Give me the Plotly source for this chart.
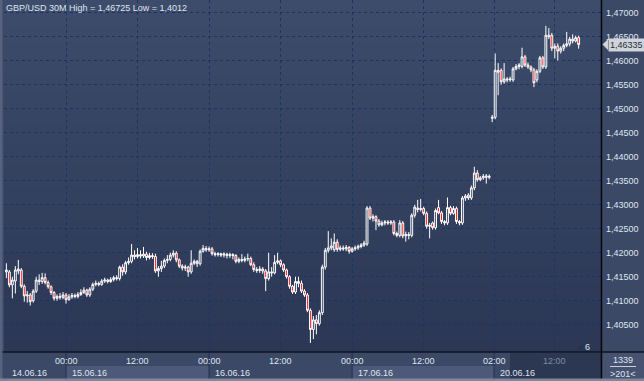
import plotly.graph_objects as go
import zlib, struct, base64

# ---------------- data (GBP/USD, 30M bars) ----------------
opens = [1.4160,1.4160,1.4133,1.4141,1.4162,1.4164,1.4130,1.4110,1.4112,1.4100,
         1.4120,1.4143,1.4140,1.4148,1.4138,1.4129,1.4117,1.4105,1.4109,1.4107,
         1.4112,1.4102,1.4108,1.4111,1.4109,1.4113,1.4117,1.4122,1.4112,1.4124,
         1.4134,1.4136,1.4134,1.4141,1.4143,1.4140,1.4144,1.4148,1.4146,1.4170,
         1.4160,1.4179,1.4182,1.4195,1.4192,1.4196,1.4193,1.4197,1.4190,1.4194,
         1.4192,1.4162,1.4167,1.4172,1.4184,1.4186,1.4195,1.4199,1.4185,1.4172,
         1.4168,1.4170,1.4160,1.4178,1.4182,1.4177,1.4203,1.4209,1.4206,1.4208,
         1.4198,1.4196,1.4198,1.4195,1.4197,1.4194,1.4196,1.4194,1.4182,1.4186,
         1.4184,1.4187,1.4188,1.4175,1.4165,1.4163,1.4166,1.4162,1.4146,1.4160,
         1.4158,1.4180,1.4183,1.4175,1.4164,1.4150,1.4130,1.4118,1.4140,1.4136,
         1.4120,1.4112,1.4080,1.4040,1.4060,1.4052,1.4075,1.4170,1.4205,1.4210,
         1.4206,1.4222,1.4207,1.4210,1.4208,1.4211,1.4203,1.4208,1.4210,1.4213,
         1.4216,1.4218,1.4293,1.4272,1.4275,1.4266,1.4258,1.4262,1.4264,1.4262,
         1.4264,1.4240,1.4236,1.4262,1.4235,1.4238,1.4236,1.4278,1.4293,1.4290,
         1.4292,1.4282,1.4255,1.4262,1.4252,1.4294,1.4283,1.4265,1.4262,1.4294,
         1.4282,1.4292,1.4265,1.4262,1.4314,1.4320,1.4314,1.4335,1.4366,1.4352,
         1.4356,1.4360,1.4357,
         1.4480,1.4482,1.4580,1.4580,1.4556,1.4562,1.4560,1.4560,1.4583,1.4588,
         1.4588,1.4608,1.4591,1.4587,1.4581,1.4560,1.4578,1.4606,1.4587,1.4653,
         1.4653,1.4626,1.4630,1.4620,1.4626,1.4632,1.4635,1.4645,1.4641,1.4648]
highs = [1.4178,1.4164,1.4150,1.4172,1.4185,1.4168,1.4134,1.4120,1.4116,1.4124,
         1.4150,1.4155,1.4158,1.4157,1.4142,1.4132,1.4120,1.4113,1.4116,1.4118,
         1.4116,1.4114,1.4116,1.4115,1.4118,1.4124,1.4128,1.4125,1.4128,1.4138,
         1.4142,1.4140,1.4145,1.4148,1.4146,1.4149,1.4152,1.4153,1.4173,1.4176,
         1.4183,1.4190,1.4218,1.4205,1.4210,1.4205,1.4212,1.4202,1.4200,1.4199,
         1.4198,1.4172,1.4183,1.4188,1.4195,1.4200,1.4205,1.4203,1.4188,1.4176,
         1.4175,1.4173,1.4205,1.4186,1.4185,1.4207,1.4216,1.4214,1.4213,1.4212,
         1.4202,1.4201,1.4200,1.4201,1.4200,1.4200,1.4199,1.4197,1.4190,1.4197,
         1.4192,1.4198,1.4192,1.4180,1.4170,1.4172,1.4170,1.4166,1.4200,1.4170,
         1.4195,1.4200,1.4186,1.4178,1.4167,1.4153,1.4133,1.4150,1.4150,1.4142,
         1.4124,1.4116,1.4084,1.4068,1.4070,1.4080,1.4175,1.4210,1.4245,1.4230,
         1.4240,1.4228,1.4215,1.4215,1.4216,1.4214,1.4212,1.4215,1.4217,1.4220,
         1.4225,1.4297,1.4297,1.4280,1.4278,1.4270,1.4267,1.4268,1.4268,1.4268,
         1.4268,1.4244,1.4268,1.4266,1.4244,1.4243,1.4282,1.4300,1.4310,1.4312,
         1.4296,1.4286,1.4262,1.4265,1.4292,1.4310,1.4287,1.4268,1.4315,1.4298,
         1.4297,1.4296,1.4268,1.4318,1.4322,1.4324,1.4340,1.4379,1.4372,1.4360,
         1.4364,1.4364,1.4363,
         1.4487,1.4615,1.4595,1.4584,1.4595,1.4566,1.4567,1.4587,1.4593,1.4595,
         1.4627,1.4612,1.4596,1.4590,1.4585,1.4582,1.4610,1.4610,1.46725,1.4668,
         1.4658,1.4636,1.4636,1.4630,1.4636,1.4660,1.4650,1.4655,1.4652,1.4652]
lows = [1.4147,1.4128,1.4105,1.4115,1.4155,1.4126,1.4098,1.4096,1.4090,1.4096,
        1.4116,1.4133,1.4135,1.4134,1.4125,1.4112,1.4100,1.4100,1.4102,1.4103,
        1.4094,1.4100,1.4104,1.4105,1.4105,1.4110,1.4114,1.4108,1.4108,1.4120,
        1.4130,1.4130,1.4131,1.4137,1.4136,1.4137,1.4140,1.4142,1.4142,1.4152,
        1.4155,1.4175,1.4178,1.4186,1.4188,1.4188,1.4189,1.4184,1.4186,1.4187,
        1.4158,1.4150,1.4160,1.4168,1.4178,1.4182,1.4190,1.4180,1.4168,1.4163,
        1.4162,1.4150,1.4156,1.4174,1.4170,1.4173,1.4200,1.4202,1.4202,1.4194,
        1.4192,1.4192,1.4191,1.4190,1.4188,1.4189,1.4186,1.4178,1.4178,1.4180,
        1.4180,1.4182,1.4172,1.4160,1.4158,1.4158,1.4156,1.4120,1.4142,1.4150,
        1.4155,1.4176,1.4170,1.4160,1.4146,1.4125,1.4114,1.4114,1.4128,1.4116,
        1.4108,1.4076,1.4012,1.4020,1.4030,1.4048,1.4070,1.4165,1.4200,1.4205,
        1.4202,1.4202,1.4203,1.4204,1.4203,1.4198,1.4200,1.4204,1.4206,1.4209,
        1.4212,1.4214,1.4268,1.4265,1.4247,1.4254,1.4255,1.4257,1.4258,1.4258,
        1.4236,1.4232,1.4232,1.4230,1.4223,1.4228,1.4232,1.4273,1.4284,1.4286,
        1.4278,1.4250,1.4230,1.4248,1.4248,1.4280,1.4260,1.4257,1.4258,1.4278,
        1.4279,1.4260,1.4257,1.4258,1.4308,1.4310,1.4310,1.4330,1.4348,1.4349,
        1.4352,1.4344,1.4353,
        1.4472,1.4478,1.4528,1.4550,1.4552,1.4555,1.4556,1.4556,1.4580,1.4582,
        1.4584,1.4587,1.4583,1.4576,1.4545,1.4555,1.4574,1.4583,1.4583,1.4645,
        1.4620,1.4605,1.4600,1.4615,1.4620,1.4628,1.4630,1.4636,1.4638,1.4625]
closes = [1.4164,1.4133,1.4143,1.4164,1.4166,1.4130,1.4110,1.4112,1.4098,1.4120,
          1.4143,1.4140,1.4148,1.4138,1.4129,1.4117,1.4105,1.4109,1.4107,1.4112,
          1.4102,1.4108,1.4111,1.4109,1.4113,1.4117,1.4122,1.4112,1.4124,1.4134,
          1.4136,1.4134,1.4141,1.4143,1.4140,1.4144,1.4148,1.4146,1.4170,1.4160,
          1.4179,1.4182,1.4195,1.4192,1.4196,1.4193,1.4197,1.4190,1.4194,1.4192,
          1.4162,1.4167,1.4172,1.4184,1.4186,1.4195,1.4199,1.4185,1.4172,1.4168,
          1.4170,1.4160,1.4178,1.4182,1.4177,1.4203,1.4209,1.4206,1.4208,1.4198,
          1.4196,1.4198,1.4195,1.4197,1.4194,1.4196,1.4194,1.4182,1.4186,1.4184,
          1.4187,1.4188,1.4175,1.4165,1.4163,1.4166,1.4162,1.4146,1.4160,1.4158,
          1.4180,1.4183,1.4175,1.4164,1.4150,1.4130,1.4118,1.4140,1.4136,1.4120,
          1.4112,1.4080,1.4040,1.4060,1.4052,1.4075,1.4170,1.4205,1.4210,1.4214,
          1.4222,1.4207,1.4210,1.4208,1.4211,1.4203,1.4208,1.4210,1.4213,1.4216,
          1.4220,1.4293,1.4272,1.4275,1.4266,1.4258,1.4262,1.4264,1.4262,1.4264,
          1.4240,1.4236,1.4262,1.4235,1.4238,1.4236,1.4278,1.4295,1.4290,1.4292,
          1.4282,1.4255,1.4257,1.4252,1.4288,1.4283,1.4265,1.4262,1.4294,1.4282,
          1.4292,1.4265,1.4262,1.4314,1.4318,1.4314,1.4335,1.4366,1.4352,1.4356,
          1.4359,1.4357,1.4359,
          1.4482,1.4580,1.4576,1.4556,1.4562,1.4560,1.4562,1.4583,1.4588,1.4591,
          1.4608,1.4591,1.4587,1.4581,1.4554,1.4578,1.4606,1.4587,1.4653,1.4650,
          1.4626,1.4630,1.4620,1.4626,1.4632,1.4635,1.4645,1.4641,1.4648,1.46335]
bar_index = list(range(len(closes)))

time_tick_pos = [20, 44, 68, 92, 116, 140, 163.6, 184]
time_tick_labels = ["00:00", "12:00", "00:00", "12:00", "00:00", "12:00", "02:00", "12:00"]
date_pos = [-0.8, 20, 68, 116, 163.6]
date_labels = ["14.06.16", "15.06.16", "16.06.16", "17.06.16", "20.06.16"]
price_ticks = [1.405, 1.410, 1.415, 1.420, 1.425, 1.430, 1.435, 1.440,
               1.445, 1.450, 1.455, 1.460, 1.465, 1.470]

# ---------------- helpers ----------------
def gradient_png(top, bottom, h=128):
    raw = b""
    for r in range(h):
        t = r / (h - 1)
        c = [int(round(top[k] * (1 - t) + bottom[k] * t)) for k in range(3)]
        raw += b"\x00" + bytes(c)
    def chunk(tag, data):
        return (struct.pack(">I", len(data)) + tag + data +
                struct.pack(">I", zlib.crc32(tag + data) & 0xffffffff))
    png = b"\x89PNG\r\n\x1a\n"
    png += chunk(b"IHDR", struct.pack(">IIBBBBB", 1, h, 8, 2, 0, 0, 0))
    png += chunk(b"IDAT", zlib.compress(raw))
    png += chunk(b"IEND", b"")
    return "data:image/png;base64," + base64.b64encode(png).decode()

W, H = 644, 381
ML, MR, MT, MB = 4, 43, 0, 29
PW, PH = W - ML - MR, H - MT - MB
def px(xp):  # pixel x -> paper
    return (xp - ML) / PW
def py(yp):  # pixel y -> paper
    return (H - MB - yp) / PH

FONT = "Liberation Sans, Arial, sans-serif"
TXT = "#dfe5ef"
GRID = "#1a3468"

def fmt(v):
    return f"{v:.5f}".replace(".", ",")

fig = go.Figure()
fig.add_trace(go.Candlestick(
    x=bar_index, open=opens, high=highs, low=lows, close=closes,
    increasing=dict(line=dict(color="#ffffff", width=1), fillcolor="rgba(0,0,0,0)"),
    decreasing=dict(line=dict(color="#ffffff", width=1), fillcolor="#ff0000"),
    whiskerwidth=0, hoverinfo="skip", showlegend=False,
))

shapes = []
# axis strip bands (alternate days)
for a, b in [(date_pos[1], date_pos[2]), (date_pos[3], date_pos[4])]:
    shapes.append(dict(type="rect", xref="x", yref="paper", x0=a, x1=b,
                       y0=py(380), y1=py(366), fillcolor="#4c5978", line=dict(width=0), layer="below"))
# dark window region at the right end of the time strip
shapes.append(dict(type="rect", xref="paper", yref="paper", x0=px(510), x1=1,
                   y0=py(380), y1=py(353), fillcolor="#2c3752", line=dict(width=0), layer="below"))
# day separators in the strip
for p in date_pos[1:]:
    shapes.append(dict(type="line", xref="x", yref="paper", x0=p, x1=p,
                       y0=py(380), y1=0, line=dict(color="#22304d", width=1)))
# right bottom panel
shapes.append(dict(type="rect", xref="paper", yref="paper", x0=1, x1=px(W),
                   y0=py(380), y1=0, fillcolor="#46526f", line=dict(width=0), layer="below"))
shapes.append(dict(type="line", xref="paper", yref="paper", x0=px(610), x1=px(636),
                   y0=py(366.5), y1=py(366.5), line=dict(color="#c9d0dc", width=1)))
# frame lines
shapes.append(dict(type="line", xref="paper", yref="paper", x0=px(0), x1=px(W),
                   y0=0, y1=0, line=dict(color="#10151f", width=1.5)))
shapes.append(dict(type="line", xref="paper", yref="paper", x0=1.0008, x1=1.0008,
                   y0=py(H), y1=1, line=dict(color="#05070c", width=1.5)))
shapes.append(dict(type="rect", xref="paper", yref="paper", x0=px(0), x1=px(2.5),
                   y0=py(H), y1=1, fillcolor="#56627e", line=dict(width=0)))
shapes.append(dict(type="rect", xref="paper", yref="paper", x0=px(0), x1=px(W),
                   y0=py(H), y1=py(378.5), fillcolor="#7f889b", line=dict(width=0)))
# small marker triangle next to "6"
shapes.append(dict(type="path", xref="paper", yref="paper",
                   path=f"M {px(577)},{py(349.5)} L {px(583)},{py(349.5)} L {px(583)},{py(344.5)} Z",
                   fillcolor="#2a3148", line=dict(width=0)))
# current price tag arrow
last = closes[-1]
dy = 0.0011
shapes.append(dict(type="path", xref="paper", yref="y",
                   path=f"M {px(602.5)},{last} L {px(608)},{last + dy} L {px(608)},{last - dy} Z",
                   fillcolor="#cfd3da", line=dict(width=0)))

ann = []
ann.append(dict(text=f"GBP/USD 30M High = {fmt(max(highs)).rstrip('0')} Low = {fmt(min(lows)).rstrip('0')}",
                xref="paper", yref="paper", x=0, y=py(8), xanchor="left", yanchor="middle",
                showarrow=False, font=dict(family=FONT, size=9, color=TXT)))
for p, t in zip(time_tick_pos, time_tick_labels):
    dim = p > 169
    ann.append(dict(text=t, xref="x", yref="paper", x=p, y=py(361), xanchor="center", yanchor="middle",
                    showarrow=False, font=dict(family=FONT, size=9, color="#7f8ba3" if dim else TXT)))
for i, (p, t) in enumerate(zip(date_pos, date_labels)):
    ann.append(dict(text=t, xref="x", yref="paper", x=p, y=py(372.5), xanchor="left", yanchor="middle",
                    xshift=6 if i == 0 else 4, showarrow=False,
                    font=dict(family=FONT, size=9, color=TXT)))
ann.append(dict(text="6", xref="paper", yref="paper", x=px(587), y=py(347), xanchor="center",
                yanchor="middle", showarrow=False, font=dict(family=FONT, size=9, color=TXT)))
ann.append(dict(text="1339", xref="paper", yref="paper", x=px(622.5), y=py(360), xanchor="center",
                yanchor="middle", showarrow=False, font=dict(family=FONT, size=9, color=TXT)))
ann.append(dict(text="&gt;201&lt;", xref="paper", yref="paper", x=px(622.5), y=py(374), xanchor="center",
                yanchor="middle", showarrow=False, font=dict(family=FONT, size=9, color=TXT)))
ann.append(dict(text=fmt(last), xref="paper", yref="y", x=px(607.5), y=last, xanchor="left",
                yanchor="middle", showarrow=False, bgcolor="#cfd3da", borderpad=1,
                font=dict(family=FONT, size=9, color="#2a2f3a")))

fig.update_layout(
    width=W, height=H, margin=dict(l=ML, r=MR, t=MT, b=MB),
    paper_bgcolor="#3c4966", plot_bgcolor="#34425f",
    separators=",.",
    showlegend=False,
    boxgap=0.12,
    images=[dict(source=gradient_png((61, 76, 107), (43, 55, 84)), xref="paper", yref="paper",
                 x=0, y=1, sizex=1, sizey=1, sizing="stretch", xanchor="left", yanchor="top",
                 layer="below")],
    xaxis=dict(range=[-0.8, 199.5], tickvals=time_tick_pos, showticklabels=False,
               showgrid=True, gridcolor=GRID, griddash="dot", gridwidth=1,
               zeroline=False, showline=False, ticks="", rangeslider=dict(visible=False),
               fixedrange=True),
    yaxis=dict(range=[1.399312, 1.472646], side="right", tickvals=price_ticks, tickformat=".5f",
               showgrid=True, gridcolor=GRID, griddash="dot", gridwidth=1,
               zeroline=False, showline=False, ticks="", ticklabelstandoff=4,
               tickfont=dict(family=FONT, size=9, color=TXT), fixedrange=True),
    shapes=shapes, annotations=ann,
)

fig.write_html("out.html", config=dict(displayModeBar=False))
